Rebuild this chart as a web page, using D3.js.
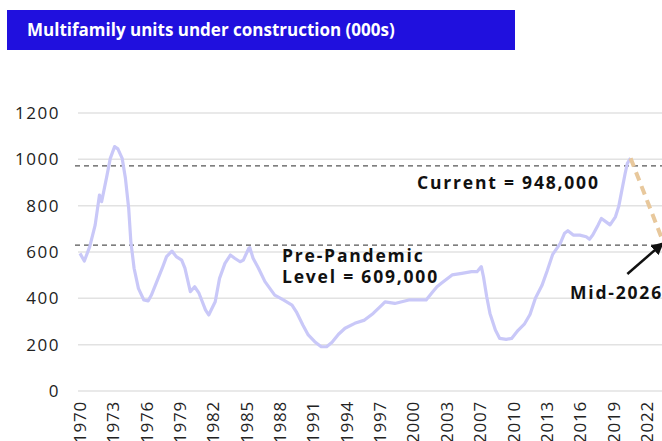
<!DOCTYPE html>
<html>
<head>
<meta charset="utf-8">
<script src="https://cdn.jsdelivr.net/npm/d3@7"></script>
<style>
	body { margin: 0; background: #fff; }
	svg { display: block; font-family: "Open Sans", sans-serif; }
</style>
</head>
<body>
<svg id="chart"></svg>
<script>
// Multifamily units under construction, thousands
const years = [
	1970.0, 1970.4, 1970.9, 1971.4, 1971.8, 1972.0, 1972.5, 1972.8, 1973.2, 1973.5,
	1973.9, 1974.2, 1974.5, 1974.7, 1975.0, 1975.4, 1975.9, 1976.3, 1976.6, 1977.1,
	1977.6, 1978.0, 1978.5, 1978.9, 1979.4, 1979.7, 1980.2, 1980.6, 1981.0, 1981.6,
	1981.9, 1982.5, 1982.9, 1983.4, 1983.9, 1984.3, 1984.8, 1985.1, 1985.6, 1985.7,
	1986.0, 1986.5, 1987.1, 1988.0, 1988.8, 1989.6, 1990.0, 1990.6, 1991.1, 1991.7,
	1992.3, 1992.8, 1993.3, 1993.9, 1994.5, 1995.4, 1996.3, 1997.1, 1997.9, 1998.2,
	1999.1, 2000.4, 2001.3, 2002.0, 2002.5, 2003.0, 2003.4, 2004.4, 2005.3, 2006.2,
	2006.7, 2007.1, 2007.3, 2007.6, 2007.9, 2008.4, 2008.8, 2009.4, 2009.9, 2010.5,
	2011.1, 2011.6, 2012.1, 2012.7, 2013.2, 2013.7, 2014.4, 2014.8, 2015.1, 2015.6,
	2016.2, 2016.8, 2017.1, 2017.4, 2017.9, 2018.2, 2018.6, 2019.0, 2019.5, 2019.8,
	2020.1, 2020.4, 2020.6, 2020.9
];
const units = [
	594, 561, 623, 716, 846, 817, 932, 1004, 1055, 1045,
	1004, 918, 789, 645, 530, 443, 393, 389, 414, 472,
	530, 580, 604, 580, 565, 530, 429, 450, 422, 350,
	328, 385, 486, 551, 587, 573, 558, 565, 616, 619,
	573, 530, 472, 414, 393, 371, 342, 285, 242, 213,
	191, 191, 210, 245, 271, 292, 306, 335, 371, 385,
	378, 393, 393, 393, 422, 450, 465, 501, 508, 515,
	515, 537, 493, 407, 335, 263, 227, 223, 227, 262,
	290, 330, 400, 455, 520, 590, 637, 681, 692, 673,
	673, 666, 655, 673, 717, 745, 731, 717, 752, 796,
	868, 940, 983, 1005
];

// Projection toward mid-2026
const forecastYears = [2020.9, 2024.2];
const forecastUnits = [1005, 609];

// Dashed reference levels (current, pre-pandemic)
const refLevels = [972, 630];

const yTicks = [0, 200, 400, 600, 800, 1000, 1200];
const xTickLabels = ["1970", "1973", "1976", "1979", "1982", "1985", "1988", "1991", "1994",
	"1997", "2000", "2003", "2007", "2010", "2013", "2016", "2019", "2022"];

const width = 662, height = 441;

const svg = d3.select("#chart")
	.attr("width", width)
	.attr("height", height);

// title bar
svg.append("rect")
	.attr("x", 7).attr("y", 10)
	.attr("width", 508).attr("height", 40)
	.attr("fill", "#2010de");

svg.append("text")
	.attr("x", 27).attr("y", 36)
	.attr("fill", "#fff")
	.attr("font-size", 17)
	.attr("font-weight", 700)
	.text("Multifamily units under construction (000s)");

// labels are every 37 months starting Jan 1970
const x = d3.scaleLinear()
	.domain([1970, 1970 + 629 / 12])
	.range([80, 647]);

const y = d3.scaleLinear()
	.domain([0, 1200])
	.range([391, 113]);

// gridlines
svg.append("g").selectAll("line")
	.data(yTicks)
	.join("line")
	.attr("x1", 78).attr("x2", width)
	.attr("y1", d => y(d)).attr("y2", d => y(d))
	.attr("stroke", "#e2e2e2")
	.attr("stroke-width", 1.5);

svg.append("g").selectAll("text")
	.data(yTicks)
	.join("text")
	.attr("x", 60)
	.attr("y", d => y(d))
	.attr("dy", "0.35em")
	.attr("text-anchor", "end")
	.attr("font-size", 17)
	.attr("letter-spacing", 1.5)
	.attr("fill", "#222")
	.text(d => d);

svg.append("g").selectAll("text")
	.data(xTickLabels)
	.join("text")
	.attr("transform", (d, i) => `translate(${x(1970 + i * 37 / 12)},443) rotate(-90)`)
	.attr("dy", "0.35em")
	.attr("text-anchor", "start")
	.attr("font-size", 17)
	.attr("letter-spacing", 0.8)
	.attr("fill", "#222")
	.text(d => d);

// reference levels
svg.append("g").selectAll("line")
	.data(refLevels)
	.join("line")
	.attr("x1", 75).attr("x2", width)
	.attr("y1", d => y(d)).attr("y2", d => y(d))
	.attr("stroke", "#555")
	.attr("stroke-width", 1.3)
	.attr("stroke-dasharray", "5,4");

// series
const line = d3.line()
	.x(d => x(d[0]))
	.y(d => y(d[1]));

svg.append("path")
	.datum(d3.zip(years, units))
	.attr("d", line)
	.attr("fill", "none")
	.attr("stroke", "#c9c8f8")
	.attr("stroke-width", 3.2)
	.attr("stroke-linejoin", "round");

svg.append("path")
	.datum(d3.zip(forecastYears, forecastUnits))
	.attr("d", line)
	.attr("fill", "none")
	.attr("stroke", "#e8c89c")
	.attr("stroke-width", 4)
	.attr("stroke-dasharray", "9,6");

// annotations
svg.append("defs").append("marker")
	.attr("id", "arrow")
	.attr("viewBox", "0 0 10 10")
	.attr("refX", 8).attr("refY", 5)
	.attr("markerWidth", 5).attr("markerHeight", 5)
	.attr("orient", "auto")
	.append("path")
	.attr("d", "M0,0L10,5L0,10z")
	.attr("fill", "#111");

svg.append("line")
	.attr("x1", x(2020.6)).attr("y1", y(505))
	.attr("x2", x(2023.8)).attr("y2", y(635))
	.attr("stroke", "#111")
	.attr("stroke-width", 2.5)
	.attr("marker-end", "url(#arrow)");

const notes = svg.append("g")
	.attr("font-size", 17.5)
	.attr("font-weight", 700)
	.attr("letter-spacing", 1.8)
	.attr("fill", "#111");

notes.append("text").attr("x", 417).attr("y", 189).text("Current = 948,000");
notes.append("text").attr("x", 282).attr("y", 262).text("Pre-Pandemic");
notes.append("text").attr("x", 282).attr("y", 283).text("Level = 609,000");
notes.append("text").attr("x", 570).attr("y", 299).text("Mid-2026");
</script>
</body>
</html>
